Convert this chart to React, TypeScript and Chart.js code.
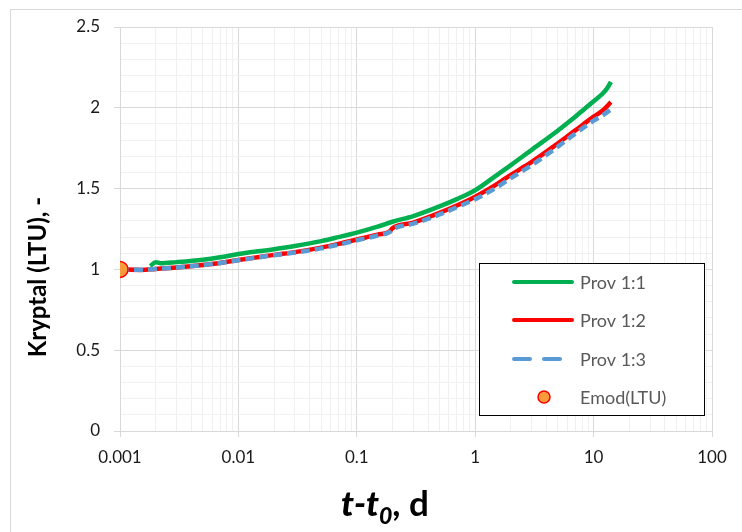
import { useEffect, useRef } from 'react';
import { Chart, registerables } from 'chart.js';

Chart.register(...registerables);

const FONT = 'Lato, "Open Sans", sans-serif';

// Time since loading, days
const tGreen = [0.0018, 0.002, 0.0022, 0.003, 0.005, 0.007, 0.01, 0.02, 0.03, 0.05, 0.07, 0.1, 0.15, 0.2, 0.3, 0.5, 0.7, 1, 1.5, 2, 3, 5, 7, 10, 12, 13, 14];
const prov11 = [1.02, 1.045, 1.038, 1.045, 1.06, 1.075, 1.095, 1.125, 1.145, 1.175, 1.2, 1.228, 1.265, 1.295, 1.33, 1.39, 1.435, 1.49, 1.58, 1.645, 1.74, 1.86, 1.945, 2.04, 2.09, 2.12, 2.16];

const tRedBlue = [0.001, 0.0015, 0.002, 0.003, 0.005, 0.007, 0.01, 0.02, 0.03, 0.05, 0.07, 0.1, 0.15, 0.19, 0.2, 0.3, 0.5, 0.7, 1, 1.5, 2, 3, 5, 7, 10, 12, 14];
const prov12 = [1.0, 0.997, 1.003, 1.012, 1.027, 1.04, 1.058, 1.09, 1.107, 1.135, 1.158, 1.185, 1.215, 1.235, 1.255, 1.29, 1.35, 1.395, 1.45, 1.525, 1.585, 1.665, 1.78, 1.86, 1.945, 1.985, 2.035];
const prov13 = [1.0, 0.998, 1.003, 1.012, 1.027, 1.04, 1.057, 1.088, 1.104, 1.13, 1.153, 1.18, 1.21, 1.232, 1.248, 1.283, 1.34, 1.385, 1.435, 1.505, 1.565, 1.645, 1.76, 1.84, 1.92, 1.955, 1.99];

const tEmod = [0.001];
const emod = [1.0];

const xTickLabels = ['0.001', '0.01', '0.1', '1', '10', '100'];
const yTickLabels = ['0', '0.5', '1', '1.5', '2', '2.5'];
const seriesNames = ['Prov 1:1', 'Prov 1:2', 'Prov 1:3', 'Emod(LTU)'];

const GREEN = '#00B050';
const RED = '#FF0000';
const BLUE = '#5B9BD5';
const ORANGE = '#F99B3B';

const toPoints = (xs: number[], ys: number[]) => xs.map((x, i) => ({ x, y: ys[i] }));

const isDecade = (v: number) => {
  const l = Math.log10(v);
  return Math.abs(l - Math.round(l)) < 1e-9;
};
const isHalf = (v: number) => Math.abs(v * 2 - Math.round(v * 2)) < 1e-6;

const background = {
  id: 'background',
  beforeDraw(chart: Chart) {
    const { ctx, width, height } = chart;
    ctx.save();
    ctx.fillStyle = '#ffffff';
    ctx.fillRect(0, 0, width, height);
    ctx.strokeStyle = '#D9D9D9';
    ctx.lineWidth = 1;
    ctx.strokeRect(10.5, 9.5, width + 20, height + 20);
    ctx.restore();
  },
};

const titles = {
  id: 'titles',
  afterDraw(chart: Chart) {
    const { ctx } = chart;
    ctx.save();
    // y axis title
    ctx.fillStyle = '#000';
    ctx.font = `bold 24px ${FONT}`;
    ctx.textAlign = 'center';
    ctx.textBaseline = 'middle';
    ctx.translate(38, 277);
    ctx.rotate(-Math.PI / 2);
    ctx.fillText('Kryptal (LTU), -', 0, 0);
    ctx.restore();

    // x axis title: t-t0, d
    ctx.save();
    ctx.fillStyle = '#000';
    ctx.textBaseline = 'alphabetic';
    ctx.textAlign = 'left';
    const base = 516;
    const f1 = `italic 900 35px ${FONT}`;
    const f2 = `italic 900 23px ${FONT}`;
    const f3 = `bold 35px ${FONT}`;
    ctx.font = f1;
    const w1 = ctx.measureText('t-t').width;
    ctx.font = f2;
    const w2 = ctx.measureText('0').width;
    ctx.font = f3;
    const w3 = ctx.measureText(', d').width;
    let x = 385 - (w1 + w2 + w3) / 2;
    ctx.font = f1;
    ctx.fillText('t-t', x, base);
    x += w1;
    ctx.font = f2;
    ctx.fillText('0', x, base + 8);
    x += w2;
    ctx.font = f3;
    ctx.fillText(', d', x, base);
    ctx.restore();
  },
};

const legendBox = {
  id: 'legendBox',
  afterDraw(chart: Chart) {
    const { ctx } = chart;
    ctx.save();
    ctx.fillStyle = '#ffffff';
    ctx.fillRect(479, 263, 225, 152);
    ctx.strokeStyle = '#000000';
    ctx.lineWidth = 1;
    ctx.strokeRect(479.5, 263.5, 225, 152);

    const rows = [282, 320, 359, 397];
    const colors = [GREEN, RED, BLUE];
    ctx.lineCap = 'round';
    for (let i = 0; i < 3; i++) {
      ctx.beginPath();
      ctx.strokeStyle = colors[i];
      ctx.lineWidth = 4;
      if (i === 2) ctx.setLineDash([16, 14]);
      else ctx.setLineDash([]);
      ctx.moveTo(514, rows[i]);
      ctx.lineTo(i === 2 ? 561 : 572, rows[i]);
      ctx.stroke();
    }
    ctx.setLineDash([]);
    ctx.beginPath();
    ctx.arc(544, rows[3], 6, 0, Math.PI * 2);
    ctx.fillStyle = ORANGE;
    ctx.fill();
    ctx.strokeStyle = RED;
    ctx.lineWidth = 1.5;
    ctx.stroke();

    ctx.fillStyle = '#595959';
    ctx.font = `18px ${FONT}`;
    ctx.textAlign = 'left';
    ctx.textBaseline = 'middle';
    seriesNames.forEach((name, i) => ctx.fillText(name, 580, rows[i] + 1));
    ctx.restore();
  },
};

export default function App() {
  const ref = useRef<HTMLCanvasElement>(null);

  useEffect(() => {
    if (!ref.current) return;
    const chart = new Chart(ref.current, {
      type: 'line',
      data: {
        datasets: [
          {
            label: seriesNames[3],
            data: toPoints(tEmod, emod),
            showLine: false,
            pointRadius: 8,
            pointBackgroundColor: ORANGE,
            pointBorderColor: RED,
            pointBorderWidth: 1.5,
            order: 0,
          },
          {
            label: seriesNames[2],
            data: toPoints(tRedBlue, prov13),
            borderColor: BLUE,
            borderWidth: 4.5,
            borderDash: [9, 5],
            pointRadius: 0,
            cubicInterpolationMode: 'monotone',
            order: 1,
          },
          {
            label: seriesNames[1],
            data: toPoints(tRedBlue, prov12),
            borderColor: RED,
            borderWidth: 4.5,
            pointRadius: 0,
            cubicInterpolationMode: 'monotone',
            order: 2,
          },
          {
            label: seriesNames[0],
            data: toPoints(tGreen, prov11),
            borderColor: GREEN,
            borderWidth: 4.5,
            pointRadius: 0,
            cubicInterpolationMode: 'monotone',
            order: 3,
          },
        ],
      },
      options: {
        animation: false,
        responsive: false,
        layout: { padding: { left: 0, top: 27, right: 30, bottom: 0 } },
        plugins: {
          legend: { display: false },
          tooltip: { enabled: false },
        },
        scales: {
          x: {
            type: 'logarithmic',
            min: 0.001,
            max: 100,
            afterBuildTicks: (scale: any) => {
              const ticks: { value: number }[] = [];
              for (let e = -3; e <= 1; e++) {
                for (let m = 1; m <= 9; m++) ticks.push({ value: Number((m * Math.pow(10, e)).toPrecision(6)) });
              }
              ticks.push({ value: 100 });
              scale.ticks = ticks;
            },
            afterFit: (scale: any) => {
              scale.height = 101;
            },
            border: { color: '#D9D9D9', width: 1 },
            grid: {
              color: (c: any) => (c.tick && isDecade(c.tick.value) ? '#D9D9D9' : '#F0F0F0'),
              tickColor: (c: any) => (c.tick && isDecade(c.tick.value) ? '#D9D9D9' : 'rgba(0,0,0,0)'),
              tickLength: 6,
            },
            ticks: {
              autoSkip: false,
              maxRotation: 0,
              padding: 10,
              color: '#1a1a1a',
              font: { family: FONT, size: 17 },
              callback: (v: any) => {
                const n = Number(v);
                if (!isDecade(n)) return '';
                return xTickLabels[Math.round(Math.log10(n)) + 3];
              },
            },
          },
          y: {
            type: 'linear',
            min: 0,
            max: 2.5,
            afterBuildTicks: (scale: any) => {
              const ticks: { value: number }[] = [];
              for (let i = 0; i <= 25; i++) ticks.push({ value: i / 10 });
              scale.ticks = ticks;
            },
            afterFit: (scale: any) => {
              scale.width = 120;
            },
            border: { color: '#D9D9D9', width: 1 },
            grid: {
              color: (c: any) => (c.tick && isHalf(c.tick.value) ? '#D9D9D9' : '#F0F0F0'),
              tickColor: (c: any) => (c.tick && isHalf(c.tick.value) ? '#D9D9D9' : 'rgba(0,0,0,0)'),
              tickLength: 6,
            },
            ticks: {
              autoSkip: false,
              padding: 14,
              color: '#1a1a1a',
              font: { family: FONT, size: 17 },
              callback: (v: any) => {
                const n = Number(v);
                if (!isHalf(n)) return '';
                return yTickLabels[Math.round(n * 2)];
              },
            },
          },
        },
      },
      plugins: [background, titles, legendBox],
    });
    return () => chart.destroy();
  }, []);

  return (
    <div style={{ position: 'fixed', left: 0, top: 0, width: 742, height: 532, background: '#fff' }}>
      <canvas ref={ref} width={742} height={532} style={{ width: 742, height: 532, display: 'block' }} />
    </div>
  );
}
